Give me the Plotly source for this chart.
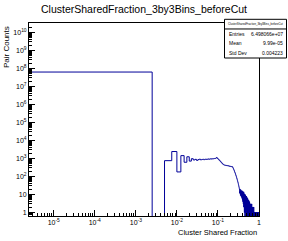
import plotly.graph_objects as go
import math

# ---------------- data ----------------
bin_width = 0.0025
n_bins = 400
counts = (
    [64000000, 0, 760, 2450, 180, 1450, 620, 1250, 720, 980]
    + [830, 900, 790, 870, 920, 840, 880, 910, 860, 900]
    + [930, 890, 920, 950, 910, 940, 960, 930, 970, 950]
    + [980, 960, 990, 1010, 1000, 1040, 1080, 1150]
    + [1060, 1000, 950, 900, 850, 800, 760, 720, 680, 640]
    + [610, 580, 550, 530, 500, 480, 470, 455, 440, 430]
    + [430, 425, 420, 428, 415, 410, 418, 405, 400, 408,
       398, 395, 400, 390, 385, 392, 380, 378, 385, 372,
       370, 375, 366, 362, 368, 360, 356, 362, 352, 350,
       355, 348]
    + [350, 330, 320, 295, 290, 270, 255, 250, 230, 215,
       210, 190, 180, 175, 160, 150, 148, 135, 125, 122,
       110, 104, 100, 90, 86, 82, 74, 70, 66, 60,
       58, 52, 50, 46, 42, 40, 36, 34, 31, 28,
       27, 24, 22, 20, 18]
    + [17, 12, 15, 20, 11, 14, 9, 16, 13, 10, 18, 8, 12, 15, 9]
    + [11, 14, 7, 12, 16, 6, 10, 13, 5, 9, 15, 8, 4, 11, 7]
    + [12, 3, 9, 6, 14, 2, 8, 10, 4, 7, 11, 1, 6, 9, 3]
    + [8, 5, 0, 10, 4, 7, 2, 9, 6, 1, 5, 8, 3, 0, 7]
    + [4, 6, 1, 8, 3, 0, 5, 7, 2, 4, 0, 6, 3, 1, 5]
    + [2, 6, 0, 4, 3, 1, 5, 0, 2, 4, 1, 3, 0, 5, 2]
    + [1, 3, 0, 4, 2, 0, 3, 1, 2, 0, 4, 1, 0, 2, 3]
    + [0, 2, 1, 3, 0, 1, 2, 0, 3, 1, 0, 2, 1, 0, 2]
    + [3, 0, 1, 2, 0, 1, 0, 2, 1, 0, 3, 1, 0, 1, 2]
    + [0, 1, 2, 0, 1, 0, 1, 2, 0, 1, 0, 1, 0, 2, 1]
    + [0, 1, 0, 1, 2, 0, 1, 0, 0, 1, 1, 0, 2, 0, 1]
    + [0, 1, 0, 1, 0, 0, 1, 0, 1, 1, 0, 0, 1, 0, 1]
    + [0, 0, 1, 0, 1, 0, 0, 1, 0, 0, 1, 0, 1, 0, 0]
    + [1, 0, 0, 1, 0, 0, 0, 1, 0, 1, 0, 0, 0, 1, 0]
    + [0, 1, 0, 0, 0, 1, 0, 0, 1, 0, 0, 0, 1, 0, 0]
    + [0, 1, 0, 0, 0, 0, 1, 0, 0, 1, 0, 0, 0, 0, 1]
    + [0, 0, 0, 1, 0, 0, 0, 0, 1, 0, 0, 0, 0, 1, 0]
    + [0, 0, 0, 1, 0, 0, 0, 0, 1, 0]
)

title_text = "ClusterSharedFraction_3by3Bins_beforeCut"
x_title = "Cluster Shared Fraction"
y_title = "Pair Counts"
stats_labels = ["Entries", "Mean", "Std Dev"]
stats_values = ["6.498066e+07", "9.99e-05", "0.004223"]

x_tickvals = [1e-5, 1e-4, 1e-3, 1e-2, 1e-1, 1]
x_ticktext = ["10<sup>-5</sup>", "10<sup>-4</sup>", "10<sup>-3</sup>",
              "10<sup>-2</sup>", "10<sup>-1</sup>", "1"]
y_tickvals = [10 ** k for k in range(0, 11)]
y_ticktext = ["1", "10"] + ["10<sup>%d</sup>" % k for k in range(2, 11)]

x_min = 2.5e-6
x_max = 1.0
y_min = 0.64
y_max = 3.4e10

# ---------------- build step line ----------------
edges = [i * bin_width for i in range(n_bins + 1)]
edges[0] = 1e-8  # log axis: left edge sits beyond the frame
floor_val = 1e-3  # empty bins drop below the frame
ys = [c if c > 0 else floor_val for c in counts]
ys = ys + [ys[-1]]

fig = go.Figure()
fig.add_trace(go.Scatter(
    x=edges, y=ys, mode="lines", line_shape="hv",
    line=dict(color="#000099", width=1), hoverinfo="skip", showlegend=False,
))

FONT = "Liberation Sans, Arial, Helvetica, sans-serif"
W, H = 288, 241
L, R, T, B = 29, 29, 23, 25

def py(p):
    return (H - B - p) / (H - T - B)

def px(p):
    return (p - L) / (W - L - R)

fig.update_layout(
    width=W, height=H,
    margin=dict(l=L, r=R, t=T, b=B, pad=0),
    paper_bgcolor="white", plot_bgcolor="white",
    font=dict(family=FONT, color="black", size=7),
    showlegend=False,
)

fig.update_xaxes(
    type="log", range=[math.log10(x_min), math.log10(x_max)],
    showgrid=False, zeroline=False,
    showline=True, linecolor="black", linewidth=1, mirror=True,
    ticks="inside", ticklen=6, tickwidth=1, tickcolor="black",
    tickvals=x_tickvals, ticktext=x_ticktext,
    tickfont=dict(family=FONT, size=7, color="black"),
    minor=dict(ticks="inside", ticklen=3, tickwidth=1, tickcolor="black", dtick="D1"),
)
fig.update_yaxes(
    type="log", range=[math.log10(y_min), math.log10(y_max)],
    showgrid=False, zeroline=False,
    showline=True, linecolor="black", linewidth=1, mirror=True,
    ticks="inside", ticklen=6, tickwidth=1, tickcolor="black",
    tickvals=y_tickvals, ticktext=y_ticktext,
    tickfont=dict(family=FONT, size=7, color="black"),
    minor=dict(ticks="inside", ticklen=3, tickwidth=1, tickcolor="black", dtick="D1"),
)

ann = []
ann.append(dict(text=title_text, xref="paper", yref="paper", x=px(144), y=py(9),
                xanchor="center", yanchor="middle", showarrow=False,
                font=dict(family=FONT, size=10.5, color="black")))
ann.append(dict(text=x_title, xref="paper", yref="paper", x=px(258.5), y=py(232),
                xanchor="right", yanchor="middle", showarrow=False,
                font=dict(family=FONT, size=7.5, color="black")))
ann.append(dict(text=y_title, xref="paper", yref="paper", x=px(6), y=py(24),
                xanchor="center", yanchor="top", textangle=-90, showarrow=False,
                font=dict(family=FONT, size=8, color="black")))

# stats box
bx0, bx1, by0, by1 = 224.5, 286.5, 19.3, 58.0
line_h = (by1 - by0) / 4
shapes = [
    dict(type="rect", xref="paper", yref="paper", x0=px(bx0), x1=px(bx1),
         y0=py(by0), y1=py(by1), line=dict(color="black", width=1), fillcolor="white",
         layer="above"),
    dict(type="line", xref="paper", yref="paper", x0=px(bx0), x1=px(bx1),
         y0=py(by0 + line_h), y1=py(by0 + line_h), line=dict(color="black", width=1)),
]
ann.append(dict(text=title_text, xref="paper", yref="paper", x=px((bx0 + bx1) / 2),
                y=py(by0 + line_h / 2), xanchor="center", yanchor="middle", showarrow=False,
                font=dict(family=FONT, size=2.8, color="black")))
for i, (lab, val) in enumerate(zip(stats_labels, stats_values)):
    yc = py(by0 + line_h * (i + 1.5))
    ann.append(dict(text=lab, xref="paper", yref="paper", x=px(bx0 + 2.5), y=yc,
                    xanchor="left", yanchor="middle", showarrow=False,
                    font=dict(family=FONT, size=5, color="black")))
    ann.append(dict(text=val, xref="paper", yref="paper", x=px(bx1 - 2), y=yc,
                    xanchor="right", yanchor="middle", showarrow=False,
                    font=dict(family=FONT, size=5, color="black")))

fig.update_layout(annotations=ann, shapes=shapes)
fig.write_html("out.html", config={"displayModeBar": False, "staticPlot": True},
               post_script="document.body.style.margin='0';document.body.style.padding='0';")
